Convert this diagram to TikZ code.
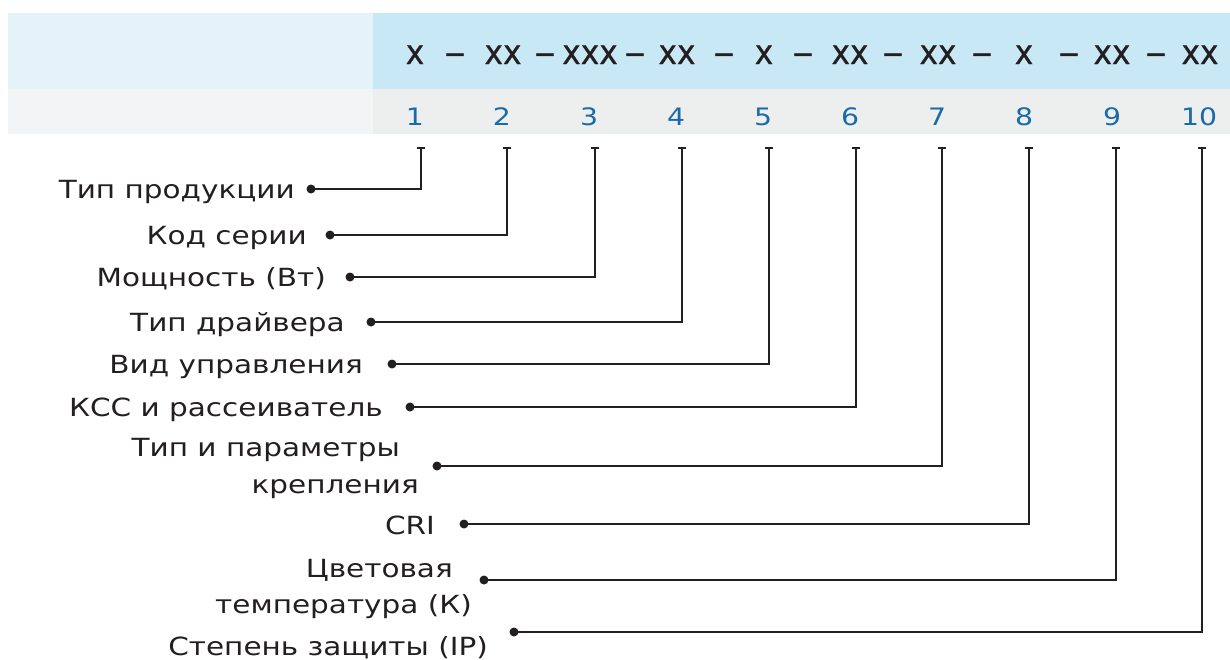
\documentclass[tikz,border=0pt]{standalone}
\usepackage{fontspec}
\setmainfont{DejaVu Sans}
\newfontfamily\lblfont[FakeStretch=1.18]{DejaVu Sans}
\newfontfamily\codefont[FakeStretch=0.92,FakeBold=0.6]{DejaVu Sans}
\newfontfamily\dashfont[FakeStretch=1.25,FakeBold=0.8]{DejaVu Sans}
\definecolor{bandA}{HTML}{E3F3F9}
\definecolor{bandB}{HTML}{C8E8F5}
\definecolor{bandC}{HTML}{F3F4F6}
\definecolor{bandD}{HTML}{EDEFEF}
\definecolor{ink}{HTML}{231F20}
\definecolor{num}{HTML}{1A6AA8}
\tikzset{
  code/.style={anchor=base, inner sep=0pt, text=ink, font=\codefont\fontsize{34}{36}\selectfont},
  sep/.style={anchor=base, inner sep=0pt, text=ink, font=\dashfont\fontsize{34}{36}\selectfont},
  numlbl/.style={anchor=base, inner sep=0pt, text=num, font=\lblfont\fontsize{24}{28}\selectfont},
  lbl/.style={anchor=base east, inner sep=0pt, text=ink, font=\lblfont\fontsize{25}{28}\selectfont},
  conn/.style={draw=ink, line width=2.2pt},
  dotc/.style={circle, fill=ink, inner sep=0pt, minimum size=9pt},
}
\begin{document}
\begin{tikzpicture}[x=1pt,y=-1pt]
\useasboundingbox (0,0) rectangle (1230,659);
\fill[bandA] (8,13) rectangle (373,89);
\fill[bandB] (373,13) rectangle (1230,89);
\fill[bandC] (8,89) rectangle (373,134);
\fill[bandD] (373,89) rectangle (1230,134);
% codes
\foreach \x/\t [count=\i] in {415/x,503/xx,590/xxx,677/xx,764/x,850/xx,938/xx,1024/x,1112/xx,1200/xx}
  \node[code] (c\i) at (\x,64) {\t};
% separators
\foreach \x [count=\i] in {455,545,635,724,803,893,982,1069,1156}
  \node[sep] (s\i) at (\x,64) {–};
% numbers
\foreach \x [count=\i] in {415,502,589,676,763,850,937,1024,1112,1199}
  \node[numlbl] (n\i) at (\x,125) {\i};
% ticks
\foreach \x [count=\i] in {421,507,595,682,769,856,942,1029,1116,1202}
  \coordinate (t\i) at (\x,148);
% labels and dots
\node[lbl] (l1) at (295,198) {Тип продукции};
\node[lbl] (l2) at (307,244) {Код серии};
\node[lbl] (l3) at (326,286) {Мощность (Вт)};
\node[lbl] (l4) at (345,331) {Тип драйвера};
\node[lbl] (l5) at (363,373) {Вид управления};
\node[lbl] (l6) at (383,416) {КСС и рассеиватель};
\node[lbl] (l7a) at (400,456) {Тип и параметры};
\node[lbl] (l7b) at (419,493) {крепления};
\node[lbl] (l8) at (435,534) {CRI};
\node[lbl] (l9a) at (453,577) {Цветовая};
\node[lbl] (l9b) at (472,613) {температура (К)};
\node[lbl] (l10) at (488,655) {Степень защиты (IP)};
\foreach \i/\x/\y in {1/311/189,2/330/235,3/350/277,4/371/322,5/392/364,6/410/407,7/437/466,8/464/524,9/484/580,10/514/632}
  \node[dotc] (d\i) at (\x,\y) {};
\foreach \i in {1,...,10}{
  \draw[conn] (d\i.center) -| (t\i);
  \draw[conn] ([xshift=-4pt]t\i) -- ([xshift=4pt]t\i);
}
\end{tikzpicture}
\end{document}
